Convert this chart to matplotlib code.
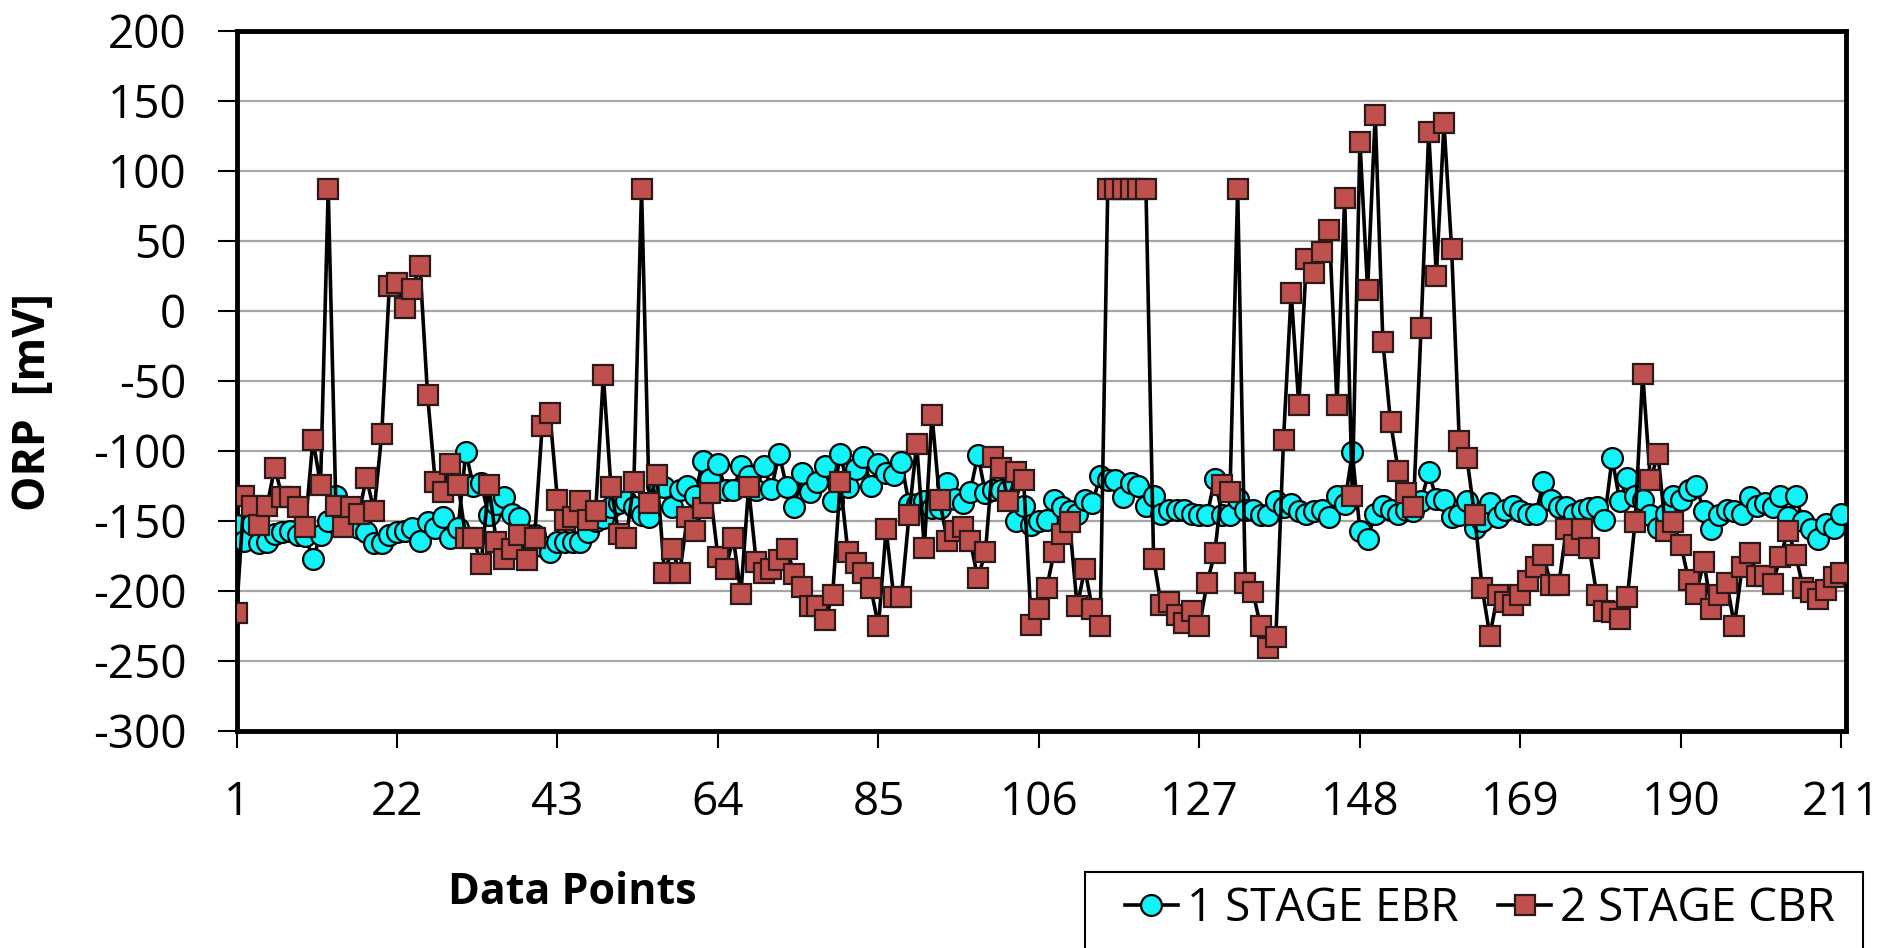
import matplotlib.pyplot as plt
from matplotlib.ticker import FixedLocator
from matplotlib.patches import Rectangle

plt.rcParams['axes.unicode_minus'] = False
plt.rcParams['font.family'] = ['Open Sans', 'DejaVu Sans']

# ORP readings, data points 1..211
ebr_1stage = [
    -153, -164, -152, -166, -165, -159, -158, -157, -160, -161,
    -177, -160, -150, -132, -140, -150, -155, -158, -166, -166,
    -160, -158, -157, -155, -164, -151, -155, -147, -162, -155,
    -101, -125, -123, -146, -138, -133, -145, -148, -160, -160,
    -168, -172, -165, -165, -165, -165, -158, -150, -148, -140,
    -137, -136, -140, -146, -147, -125, -126, -140, -128, -125,
    -132, -107, -120, -109, -128, -128, -111, -118, -128, -111,
    -127, -102, -126, -140, -116, -129, -122, -111, -136, -102,
    -126, -113, -104, -125, -109, -116, -117, -108, -138, -138,
    -136, -141, -141, -123, -134, -137, -129, -103, -130, -128,
    -128, -128, -150, -139, -153, -150, -149, -135, -140, -143,
    -145, -135, -137, -118, -121, -121, -133, -123, -125, -139,
    -132, -145, -142, -142, -142, -145, -146, -146, -120, -146,
    -146, -134, -142, -142, -146, -146, -136, -140, -138, -143,
    -145, -143, -142, -147, -132, -138, -101, -157, -163, -145,
    -139, -142, -145, -142, -143, -136, -115, -134, -135, -147,
    -146, -136, -155, -150, -137, -147, -142, -139, -143, -145,
    -145, -122, -135, -140, -140, -145, -142, -141, -140, -149,
    -105, -136, -119, -132, -135, -146, -155, -145, -132, -135,
    -128, -125, -143, -156, -146, -142, -143, -145, -133, -139,
    -137, -140, -132, -147, -132, -150, -156, -163, -152, -155,
    -145,
]
cbr_2stage = [
    -216, -132, -139, -153, -139, -112, -133, -133, -140, -154,
    -92, -124, 87, -139, -154, -140, -145, -119, -143, -88,
    18, 20, 2, 16, 32, -60, -122, -129, -109, -124,
    -162, -162, -181, -124, -165, -177, -170, -160, -178, -162,
    -82, -73, -135, -149, -147, -136, -149, -143, -46, -126,
    -159, -162, -122, 87, -137, -117, -187, -170, -187, -147,
    -157, -141, -130, -176, -184, -162, -202, -126, -179, -187,
    -184, -178, -170, -188, -197, -211, -211, -221, -203, -122,
    -172, -180, -187, -198, -225, -156, -204, -204, -146, -95,
    -169, -74, -135, -164, -157, -154, -164, -191, -172, -104,
    -112, -136, -115, -121, -224, -213, -198, -172, -159, -151,
    -211, -184, -213, -225, 87, 87, 87, 87, 87, 87,
    -177, -210, -208, -217, -223, -214, -225, -194, -173, -124,
    -129, 87, -194, -201, -225, -241, -233, -92, 13, -67,
    37, 27, 42, 58, -67, 81, -132, 121, 15, 140,
    -22, -79, -114, -130, -140, -12, 128, 25, 134, 44,
    -93, -105, -146, -198, -232, -203, -208, -210, -203, -193,
    -183, -174, -196, -196, -156, -167, -156, -169, -203, -214,
    -215, -220, -204, -151, -45, -121, -102, -157, -151, -167,
    -192, -202, -179, -213, -203, -194, -225, -183, -173, -189,
    -189, -195, -176, -157, -174, -198, -201, -206, -199, -190,
    -187,
]
points = list(range(1, len(ebr_1stage) + 1))
x_ticks = list(range(1, 212, 21))
y_ticks = list(range(-300, 201, 50))

fig = plt.figure(figsize=(19, 9.48), dpi=100)
ax = fig.add_axes([236.5 / 1900, 1 - 731 / 948, (1846 - 236.5) / 1900, 700 / 948])

ax.plot(points, ebr_1stage, color='black', lw=2.6, marker='o', ms=15,
        mfc='#10f4f8', mec='black', mew=1.6, label='1 STAGE EBR', zorder=3)
ax.plot(points, cbr_2stage, color='black', lw=2.6, marker='s', ms=15,
        mfc='#c0504d', mec='#2a1a1a', mew=1.6, label='2 STAGE CBR', zorder=4)

ax.set_xlim(1, 211.6)
ax.set_ylim(-300, 200)
ax.xaxis.set_major_locator(FixedLocator(x_ticks))
ax.yaxis.set_major_locator(FixedLocator(y_ticks))
ax.grid(axis='y', color='#a6a6a6', lw=1.6, zorder=0)
ax.set_axisbelow(True)
for s in ax.spines.values():
    s.set_linewidth(3.5)
    s.set_color('black')
ax.tick_params(axis='y', direction='out', length=14, width=1.5, pad=22, labelsize=33)
ax.tick_params(axis='x', direction='out', length=12, width=1.5, pad=23, labelsize=33)

fig.text(34 / 1900, 1 - 402 / 948, 'ORP  [mV]', rotation=90, ha='center', va='center',
         fontsize=32, fontweight='bold')
fig.text(572 / 1900, 1 - 893 / 948, 'Data Points', ha='center', va='center',
         fontsize=31, fontweight='bold')

# legend box runs off the bottom edge in the original
fig.patches.append(Rectangle((1085 / 1900, -0.02), (1863 - 1085) / 1900, 0.02 + 1 - 872 / 948,
                             transform=fig.transFigure, fill=False, ec='black', lw=1.5))
fig.legend(loc='center left', bbox_to_anchor=(1125 / 1900, 1 - 909 / 948), ncol=2,
           frameon=False, borderpad=0, borderaxespad=0, handlelength=1.15,
           handletextpad=0.2, columnspacing=0.87, prop={'size': 33})

plt.savefig('out.png', dpi=100)
